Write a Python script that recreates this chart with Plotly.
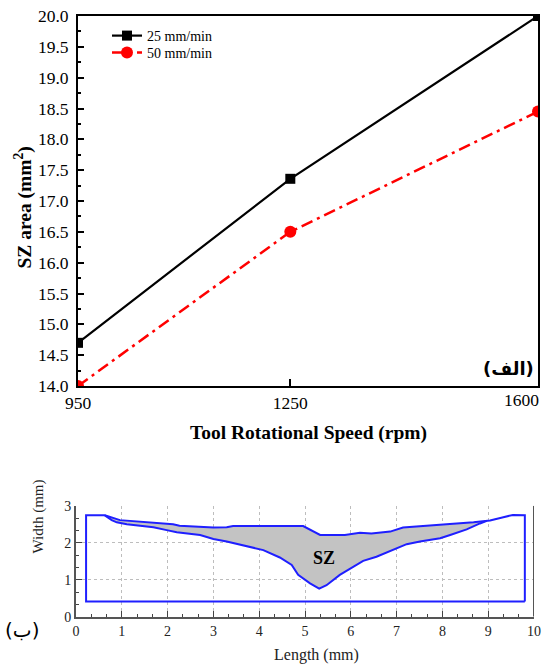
import plotly.graph_objects as go

# ---- data: top chart ----
speed = [950, 1250, 1600]
speed_labels = ["950", "1250", "1600"]
area_25 = [14.7, 17.36, 20.0]
area_50 = [14.0, 16.5, 18.45]
y_ticks = [14.0, 14.5, 15.0, 15.5, 16.0, 16.5, 17.0, 17.5, 18.0, 18.5, 19.0, 19.5, 20.0]

# ---- data: bottom chart (weld cross-section) ----
plate_left = 0.22
plate_right = 9.8
plate_bottom = 0.41
top_x = [0.63, 0.96, 1.40, 1.83, 2.12, 2.26, 2.78, 3.00, 3.29, 3.43, 4.96, 5.15, 5.33, 5.87,
         6.20, 6.45, 6.86, 7.14, 7.66, 8.09, 8.68, 8.97, 9.04, 9.33, 9.54, 9.80]
top_y = [2.74, 2.61, 2.57, 2.52, 2.50, 2.46, 2.43, 2.41, 2.42, 2.45, 2.45, 2.33, 2.21, 2.21,
         2.27, 2.25, 2.30, 2.41, 2.45, 2.50, 2.55, 2.59, 2.60, 2.69, 2.75, 2.74]
bot_x = [0.63, 0.78, 0.89, 1.11, 1.40, 1.69, 1.98, 2.20, 2.71, 3.00, 3.29, 3.73, 4.09, 4.45,
         4.71, 4.85, 5.11, 5.31, 5.47, 5.76, 6.05, 6.27, 6.56, 6.93, 7.22, 7.51, 7.95, 8.17,
         8.53, 8.82, 8.97]
bot_y = [2.74, 2.61, 2.55, 2.50, 2.46, 2.42, 2.34, 2.28, 2.21, 2.10, 2.03, 1.91, 1.80, 1.60,
         1.40, 1.13, 0.90, 0.76, 0.85, 1.13, 1.35, 1.51, 1.62, 1.80, 1.96, 2.03, 2.12, 2.21,
         2.36, 2.52, 2.59]

W, H = 543, 666
SERIF = "Liberation Serif"
BLUE = "#1f1fff"

fig = go.Figure()

# top chart
fig.add_trace(go.Scatter(x=speed, y=area_25, mode="lines+markers", name="25 mm/min",
                         line=dict(color="black", width=2.2),
                         marker=dict(symbol="square", size=10, color="black"),
                         xaxis="x", yaxis="y", legend="legend"))
fig.add_trace(go.Scatter(x=speed, y=area_50, mode="lines+markers", name="50 mm/min",
                         line=dict(color="#ff0000", width=2.5, dash="12px,5px,3px,5px"),
                         marker=dict(symbol="circle", size=12, color="#ff0000"),
                         xaxis="x", yaxis="y", legend="legend2"))

# bottom chart: SZ fill
end_x = bot_x[-1]
fill_x = [x for x in top_x if x <= end_x] + bot_x[::-1]
fill_y = [y for x, y in zip(top_x, top_y) if x <= end_x] + bot_y[::-1]
fig.add_trace(go.Scatter(x=fill_x, y=fill_y, mode="lines", fill="toself",
                         fillcolor="#c3c3c3", line=dict(width=0), showlegend=False,
                         hoverinfo="skip", xaxis="x2", yaxis="y2"))
# outline of plate
out_x = [plate_right, plate_left, plate_left] + top_x + [plate_right, plate_right]
out_y = [plate_bottom, plate_bottom, top_y[0]] + top_y + [top_y[-1], plate_bottom]
fig.add_trace(go.Scatter(x=out_x, y=out_y, mode="lines", line=dict(color=BLUE, width=2),
                         showlegend=False, xaxis="x2", yaxis="y2"))
fig.add_trace(go.Scatter(x=bot_x, y=bot_y, mode="lines", line=dict(color=BLUE, width=2),
                         showlegend=False, xaxis="x2", yaxis="y2"))

top_dom_y = [1 - 386 / H, 1 - 16 / H]
bot_dom_y = [1 - 616.7 / H, 1 - 505.7 / H]

leg_common = dict(xanchor="left", yanchor="middle", bgcolor="rgba(0,0,0,0)",
                  font=dict(size=14, family=SERIF))

fig.update_layout(
    width=W, height=H, autosize=False,
    margin=dict(l=0, r=0, t=0, b=0, autoexpand=False),
    paper_bgcolor="white", plot_bgcolor="white",
    font=dict(family=SERIF, color="black"),
    xaxis=dict(domain=[78 / W, 538 / W], range=[950, 1600], tickvals=speed[:2],
               ticktext=speed_labels[:2],
               ticks="inside", ticklen=7, tickwidth=1.5, tickcolor="black",
               showline=True, linecolor="black", linewidth=2, mirror=True,
               showgrid=False, zeroline=False, tickfont=dict(size=17.5), anchor="y",
               automargin=False),
    yaxis=dict(domain=top_dom_y, range=[14, 20], tickvals=y_ticks, tickformat=".1f",
               ticks="inside", ticklen=6, tickwidth=1.5, tickcolor="black",
               minor=dict(dtick=0.25, ticks="inside", ticklen=3, tickcolor="black", showgrid=False),
               showline=True, linecolor="black", linewidth=2, mirror=True,
               showgrid=False, zeroline=False, tickfont=dict(size=17.5),
               ticklabelstandoff=4, anchor="x", automargin=False),
    xaxis2=dict(domain=[76 / W, 534 / W], range=[0, 10], dtick=1, tick0=0,
                ticks="inside", ticklen=6, tickwidth=1.3, tickcolor="#444",
                minor=dict(dtick=1 / 3, tick0=0, ticks="inside", ticklen=3, tickcolor="#444", showgrid=False),
                showline=True, linecolor="#555", linewidth=2,
                showgrid=True, gridcolor="#bdbdbd", griddash="dot", gridwidth=1,
                zeroline=False, tickfont=dict(size=14, color="#222"), anchor="y2",
                automargin=False),
    yaxis2=dict(domain=bot_dom_y, range=[0, 3], dtick=1, tick0=0,
                ticks="inside", ticklen=6, tickwidth=1.3, tickcolor="#444",
                minor=dict(dtick=1 / 3, tick0=0, ticks="inside", ticklen=3, tickcolor="#444", showgrid=False),
                showline=True, linecolor="#555", linewidth=2,
                showgrid=True, gridcolor="#bdbdbd", griddash="dot", gridwidth=1,
                zeroline=False, tickfont=dict(size=14, color="#222"), anchor="x2",
                automargin=False),
    legend=dict(x=107 / W, y=1 - 36 / H, **leg_common),
    legend2=dict(x=107 / W, y=1 - 53 / H, **leg_common),
    shapes=[dict(type="line", xref="x2", yref="y2", x0=10, x1=10, y0=0, y1=3,
                 line=dict(color="#555", width=2))],
    annotations=[
        dict(text=speed_labels[2], xref="paper", yref="paper", x=541 / W, y=1 - 400 / H,
             xanchor="right", showarrow=False, font=dict(size=17.5, family=SERIF)),
        dict(text="<b>SZ area (mm<sup>2</sup>)</b>", xref="paper", yref="paper",
             x=8 / W, y=1 - 145 / H, textangle=-90, showarrow=False,
             font=dict(size=19.5, family=SERIF)),
        dict(text="<b>Tool Rotational Speed (rpm)</b>", xref="paper", yref="paper",
             x=308 / W, y=1 - 433 / H, showarrow=False, font=dict(size=19.5, family=SERIF)),
        dict(text="<b>(الف)</b>", xref="paper", yref="paper", x=536 / W, y=1 - 368 / H,
             xanchor="right", showarrow=False, font=dict(size=18, family="DejaVu Sans")),
        dict(text="(ب)", xref="paper", yref="paper", x=3 / W, y=1 - 644 / H,
             xanchor="left", showarrow=False, font=dict(size=20, family="DejaVu Sans")),
        dict(text="Width (mm)", xref="paper", yref="paper", x=27 / W, y=1 - 556 / H,
             textangle=-90, showarrow=False, font=dict(size=15, family=SERIF, color="#222")),
        dict(text="Length (mm)", xref="paper", yref="paper", x=316 / W, y=0,
             yanchor="bottom", showarrow=False, font=dict(size=16, family=SERIF, color="#222")),
        dict(text="<b>SZ</b>", xref="x2", yref="y2", x=5.42, y=1.6, showarrow=False,
             font=dict(size=18, family=SERIF)),
    ],
)

fig.write_html("out.html", config={"displayModeBar": False},
               post_script="document.body.style.margin='0';document.body.style.overflow='hidden';")
